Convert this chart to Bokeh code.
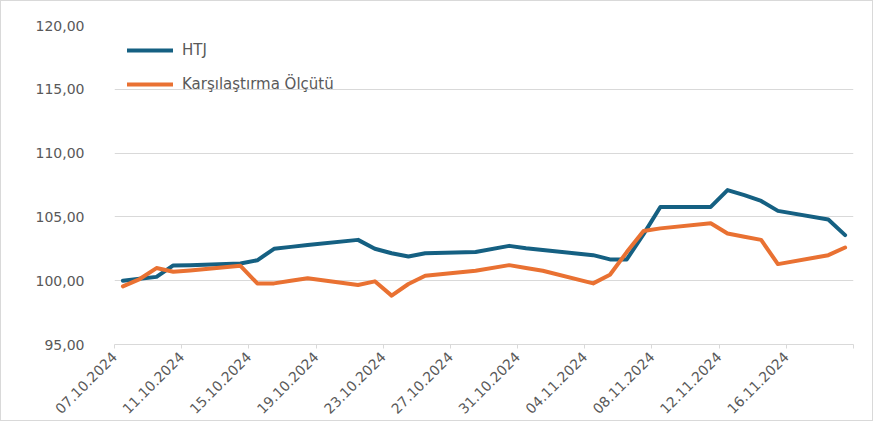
import pandas as pd
from bokeh.plotting import figure
from bokeh.models import Range1d, FixedTicker, Legend, LegendItem, ColumnDataSource
from bokeh.embed import file_html
from bokeh.resources import INLINE

# ---- data ----
dates = ["07.10.2024", "08.10.2024", "09.10.2024", "10.10.2024", "11.10.2024",
         "14.10.2024", "15.10.2024", "16.10.2024", "17.10.2024", "18.10.2024",
         "21.10.2024", "22.10.2024", "23.10.2024", "24.10.2024", "25.10.2024",
         "28.10.2024", "30.10.2024", "31.10.2024", "01.11.2024",
         "04.11.2024", "05.11.2024", "06.11.2024", "07.11.2024", "08.11.2024",
         "11.11.2024", "12.11.2024", "13.11.2024", "14.11.2024", "15.11.2024",
         "18.11.2024", "19.11.2024"]

htj = [100.00, 100.15, 100.30, 101.20, 101.22,
       101.35, 101.60, 102.50, 102.65, 102.80,
       103.20, 102.50, 102.15, 101.90, 102.15,
       102.25, 102.73, 102.55, 102.40,
       102.00, 101.67, 101.67, 103.65, 105.78,
       105.78, 107.10, 106.70, 106.25, 105.47,
       104.80, 103.57]

olcut = [99.56, 100.13, 100.99, 100.70, 100.80,
         101.17, 99.79, 99.79, 100.00, 100.20,
         99.66, 99.95, 98.83, 99.74, 100.39,
         100.78, 101.22, 101.00, 100.78,
         99.79, 100.47, 102.24, 103.90, 104.10,
         104.50, 103.70, 103.45, 103.20, 101.30,
         102.00, 102.60]

series_names = ["HTJ", "Karşılaştırma Ölçütü"]
axis_start = "07.10.2024"
axis_end = "20.11.2024"
x_tick_step = 4
y_ticks = [95, 100, 105, 110, 115, 120]

# ---- build ----
fmt = "%d.%m.%Y"
d = pd.to_datetime(dates, format=fmt)
start = pd.to_datetime(axis_start, format=fmt)
end = pd.to_datetime(axis_end, format=fmt)
ndays = (end - start).days
xs = [(di - start).days + 0.5 for di in d]

src = ColumnDataSource(dict(x=xs, htj=htj, olcut=olcut))

p = figure(width=873, height=421,
           x_range=Range1d(0, ndays), y_range=Range1d(y_ticks[0], y_ticks[-1]),
           output_backend="svg", toolbar_location=None,
           min_border_left=113, min_border_right=21,
           min_border_top=24, min_border_bottom=78)
p.styles = {"border": "1px solid #d9d9d9"}
p.outline_line_color = None
p.background_fill_color = "white"
p.border_fill_color = "white"

BLUE = "#156082"
ORANGE = "#E97132"
r1 = p.line("x", "htj", source=src, line_color=BLUE, line_width=4,
            line_cap="round", line_join="round")
r2 = p.line("x", "olcut", source=src, line_color=ORANGE, line_width=4,
            line_cap="round", line_join="round")

# x axis
xticks = list(range(0, ndays + 1, x_tick_step))
xover = {t: (start + pd.Timedelta(days=t)).strftime(fmt) for t in xticks}
xover[ndays] = ""
if ndays not in xticks:
    xticks.append(ndays)
p.xaxis.ticker = FixedTicker(ticks=xticks)
p.xaxis.major_label_overrides = xover
p.xaxis.major_label_orientation = 0.785398
p.xaxis.axis_line_color = "#d9d9d9"
p.xaxis.major_tick_line_color = "#d9d9d9"
p.xaxis.major_tick_in = 0
p.xaxis.major_tick_out = 4
p.xaxis.minor_tick_line_color = None
p.xaxis.major_label_standoff = 6
p.xaxis.major_label_text_font = "DejaVu Sans"
p.xaxis.major_label_text_font_size = "14px"
p.xaxis.major_label_text_color = "#595959"

# y axis
p.yaxis.ticker = FixedTicker(ticks=y_ticks)
p.yaxis.major_label_overrides = {v: f"{v:.2f}".replace(".", ",") for v in y_ticks}
p.yaxis.axis_line_color = None
p.yaxis.major_tick_line_color = None
p.yaxis.minor_tick_line_color = None
p.yaxis.major_label_standoff = 24
p.yaxis.major_label_text_font = "DejaVu Sans"
p.yaxis.major_label_text_font_size = "14px"
p.yaxis.major_label_text_color = "#595959"

p.xgrid.grid_line_color = None
p.ygrid.grid_line_color = "#d9d9d9"
p.ygrid.grid_line_width = 1

legend = Legend(items=[LegendItem(label=series_names[0], renderers=[r1]),
                       LegendItem(label=series_names[1], renderers=[r2])],
                location=(13, 250), orientation="vertical",
                glyph_width=46, glyph_height=20, label_height=20,
                label_standoff=9, spacing=14, padding=0, margin=0,
                border_line_color=None, background_fill_alpha=0,
                label_text_font="DejaVu Sans", label_text_font_size="15px",
                label_text_color="#595959")
p.add_layout(legend)

open("out.html", "w").write(file_html(p, INLINE))
